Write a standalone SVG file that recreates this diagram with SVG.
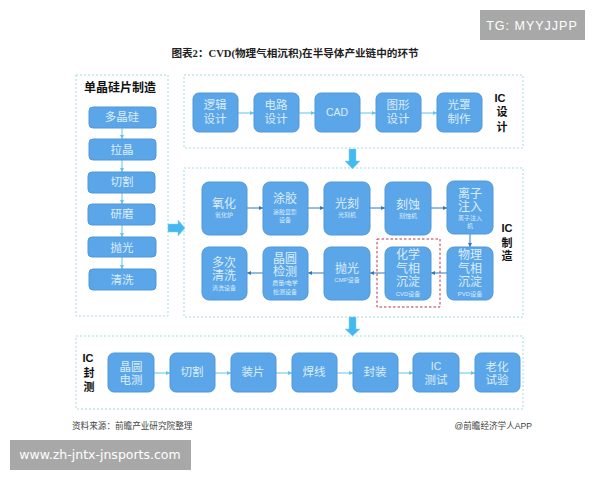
<svg xmlns="http://www.w3.org/2000/svg" width="600" height="480" viewBox="0 0 600 480">
<style>
text{font-family:"Liberation Sans","Noto Sans CJK SC",sans-serif;text-anchor:middle}
.p{fill:#fff;stroke:#a5dbe2;stroke-width:1;stroke-dasharray:2 2}
.b{fill:#5ba6e9;stroke:#4f97d8;stroke-width:1}
.t{fill:#dcedfa;font-size:11.500px}
.m{fill:#dcedfa;font-size:12px}
.s{fill:#dcedfa;font-size:6px}
.h{fill:#111;font-size:11px;font-weight:700}
.c{fill:none;stroke-width:1}
.l{stroke:#63c3ea;marker-end:url(#al)}
.d{stroke:#2f78b8;marker-end:url(#ad)}
.k{fill:#44b9ef;stroke:#7fd0f0;stroke-width:.5}
.g{fill:#a8a8a8}
</style>
<defs>
<marker id="al" markerWidth="5" markerHeight="5" refX="4" refY="2.500" orient="auto"><path d="M0 0.500L4 2.500L0 4.500Z" fill="#63c3ea"/></marker>
<marker id="ad" markerWidth="5" markerHeight="5" refX="4" refY="2.500" orient="auto"><path d="M0 0.500L4 2.500L0 4.500Z" fill="#2f78b8"/></marker>
</defs>
<rect width="600" height="480" fill="#fff"/>

<g id="tg"><rect class="g" x="480" y="10" width="105" height="30"/><text x="532" y="30" style="font-size:12.500px;letter-spacing:1px" fill="#fff">TG: MYYJJPP</text></g>
<g id="title"><text x="295" y="57" style="font-size:10.600px;font-weight:700;font-family:'Liberation Serif','Noto Sans CJK SC',serif" fill="#222">图表2：CVD(物理气相沉积)在半导体产业链中的环节</text></g>

<g id="panels">
<rect class="p" x="76" y="75" width="92" height="241"/>
<rect class="p" x="184" y="75" width="339" height="73"/>
<rect class="p" x="184" y="168" width="339" height="149"/>
<rect class="p" x="76" y="336" width="447" height="73"/>
</g>

<g id="connectors">
<path class="c l" d="M122 128V139"/><path class="c l" d="M122 160V172"/><path class="c l" d="M122 193V204"/><path class="c l" d="M122 225V237"/><path class="c l" d="M122 257V269"/>
<path class="c l" d="M238 113H254"/><path class="c l" d="M299 113H315"/><path class="c l" d="M360 113H376"/><path class="c l" d="M421 113H437"/>
<path class="c d" d="M247 208H263"/><path class="c d" d="M308 208H324"/><path class="c d" d="M370 208H385"/><path class="c d" d="M431 208H447"/>
<path class="c d" d="M470 234V247"/><path class="c d" d="M447 273H431"/><path class="c d" d="M385 273H370"/><path class="c d" d="M324 273H308"/><path class="c d" d="M263 273H247"/>
<path class="c l" d="M154 373H170"/><path class="c l" d="M215 373H231"/><path class="c l" d="M276 373H292"/><path class="c l" d="M337 373H353"/><path class="c l" d="M398 373H413"/><path class="c l" d="M459 373H475"/>
<path class="k" d="M168 224H178V220L185 228L178 236V232H168Z"/>
<path class="k" d="M349 149H356V161H360L352.500 169L345 161H349Z"/>
<path class="k" d="M349 317H356V329H360L352.500 336L345 329H349Z"/>
</g>
<rect id="cvd-highlight" x="377" y="239" width="63" height="68" fill="none" stroke="#c0354f" stroke-width="1" stroke-dasharray="2.500 2"/>

<g id="head-si"><text class="h" x="120" y="92" style="font-size:12px">单晶硅片制造</text></g>
<g id="si1"><rect class="b" x="89" y="107" width="67" height="21" rx="4"/><text class="t" x="122" y="121">多晶硅</text></g>
<g id="si2"><rect class="b" x="89" y="139" width="67" height="21" rx="4"/><text class="t" x="122" y="154">拉晶</text></g>
<g id="si3"><rect class="b" x="88" y="172" width="67" height="21" rx="4"/><text class="t" x="122" y="186">切割</text></g>
<g id="si4"><rect class="b" x="88" y="204" width="67" height="21" rx="4"/><text class="t" x="122" y="218">研磨</text></g>
<g id="si5"><rect class="b" x="88" y="237" width="68" height="20" rx="4"/><text class="t" x="122" y="252">抛光</text></g>
<g id="si6"><rect class="b" x="89" y="269" width="67" height="21" rx="4"/><text class="t" x="122" y="284">清洗</text></g>

<g id="head-design"><text class="h" x="500" y="102">IC</text><text class="h" x="502" y="116">设</text><text class="h" x="502" y="131">计</text></g>
<g id="d1"><rect class="b" x="193" y="93" width="45" height="39" rx="6"/><text class="t" x="215" y="109">逻辑</text><text class="t" x="215" y="123">设计</text></g>
<g id="d2"><rect class="b" x="254" y="93" width="45" height="39" rx="6"/><text class="t" x="276" y="109">电路</text><text class="t" x="276" y="123">设计</text></g>
<g id="d3"><rect class="b" x="315" y="93" width="45" height="39" rx="6"/><text class="t" x="337" y="116" style="font-size:10.500px">CAD</text></g>
<g id="d4"><rect class="b" x="376" y="93" width="45" height="39" rx="6"/><text class="t" x="398" y="109">图形</text><text class="t" x="398" y="123">设计</text></g>
<g id="d5"><rect class="b" x="437" y="93" width="45" height="39" rx="6"/><text class="t" x="459" y="109">光罩</text><text class="t" x="459" y="123">制作</text></g>

<g id="head-fab"><text class="h" x="507" y="232">IC</text><text class="h" x="507" y="247">制</text><text class="h" x="507" y="260">造</text></g>
<g id="f1"><rect class="b" x="202" y="182" width="45" height="53" rx="7"/><text class="m" x="224" y="208">氧化</text><text class="s" x="224" y="217">氧化炉</text></g>
<g id="f2"><rect class="b" x="263" y="182" width="45" height="53" rx="7"/><text class="m" x="285" y="203">涂胶</text><text class="s" x="285" y="214">涂胶显影</text><text class="s" x="285" y="222">设备</text></g>
<g id="f3"><rect class="b" x="324" y="182" width="46" height="53" rx="7"/><text class="m" x="347" y="208">光刻</text><text class="s" x="347" y="217">光刻机</text></g>
<g id="f4"><rect class="b" x="385" y="182" width="46" height="53" rx="7"/><text class="m" x="408" y="209">刻蚀</text><text class="s" x="408" y="218">刻蚀机</text></g>
<g id="f5"><rect class="b" x="447" y="181" width="46" height="53" rx="7"/><text class="m" x="470" y="198">离子</text><text class="m" x="470" y="211">注入</text><text class="s" x="470" y="220">离子注入</text><text class="s" x="470" y="228">机</text></g>

<g id="f6"><rect class="b" x="447" y="247" width="46" height="53" rx="7"/><text class="m" x="470" y="259">物理</text><text class="m" x="470" y="273">气相</text><text class="m" x="470" y="286">沉淀</text><text class="s" x="470" y="296">PVD设备</text></g>
<g id="f7"><rect class="b" x="385" y="247" width="46" height="53" rx="7"/><text class="m" x="408" y="259">化学</text><text class="m" x="408" y="273">气相</text><text class="m" x="408" y="286">沉淀</text><text class="s" x="408" y="296">CVD设备</text></g>
<g id="f8"><rect class="b" x="324" y="247" width="46" height="53" rx="7"/><text class="m" x="347" y="273">抛光</text><text class="s" x="347" y="282">CMP设备</text></g>
<g id="f9"><rect class="b" x="263" y="247" width="45" height="53" rx="7"/><text class="m" x="285" y="263">晶圆</text><text class="m" x="285" y="276">检测</text><text class="s" x="285" y="285">质量/电学</text><text class="s" x="285" y="294">检测设备</text></g>
<g id="f10"><rect class="b" x="202" y="247" width="45" height="53" rx="7"/><text class="m" x="224" y="267">多次</text><text class="m" x="224" y="280">清洗</text><text class="s" x="224" y="290">清洗设备</text></g>

<g id="head-test"><text class="h" x="88" y="362">IC</text><text class="h" x="89" y="377">封</text><text class="h" x="89" y="391">测</text></g>
<g id="t1"><rect class="b" x="108" y="353" width="46" height="39" rx="6"/><text class="t" x="131" y="371">晶圆</text><text class="t" x="131" y="384">电测</text></g>
<g id="t2"><rect class="b" x="170" y="353" width="45" height="39" rx="6"/><text class="t" x="192" y="376">切割</text></g>
<g id="t3"><rect class="b" x="231" y="353" width="45" height="39" rx="6"/><text class="t" x="253" y="376">装片</text></g>
<g id="t4"><rect class="b" x="292" y="353" width="45" height="39" rx="6"/><text class="t" x="314" y="376">焊线</text></g>
<g id="t5"><rect class="b" x="353" y="353" width="45" height="39" rx="6"/><text class="t" x="375" y="376">封装</text></g>
<g id="t6"><rect class="b" x="413" y="353" width="46" height="39" rx="6"/><text class="t" x="436" y="370" style="font-size:10.500px">IC</text><text class="t" x="436" y="384">测试</text></g>
<g id="t7"><rect class="b" x="475" y="353" width="45" height="39" rx="6"/><text class="t" x="497" y="371">老化</text><text class="t" x="497" y="384">试验</text></g>

<g id="footer"><text x="72" y="429" style="font-size:8.600px;text-anchor:start" fill="#444">资料来源：前瞻产业研究院整理</text><text x="532" y="429" style="font-size:8.600px;text-anchor:end" fill="#444">@前瞻经济学人APP</text></g>
<g id="url"><rect class="g" x="10" y="440" width="181" height="30"/><text x="100" y="459" style="font-size:12.500px;font-family:'DejaVu Sans',sans-serif" fill="#fff">www.zh-jntx-jnsports.com</text></g>
</svg>
